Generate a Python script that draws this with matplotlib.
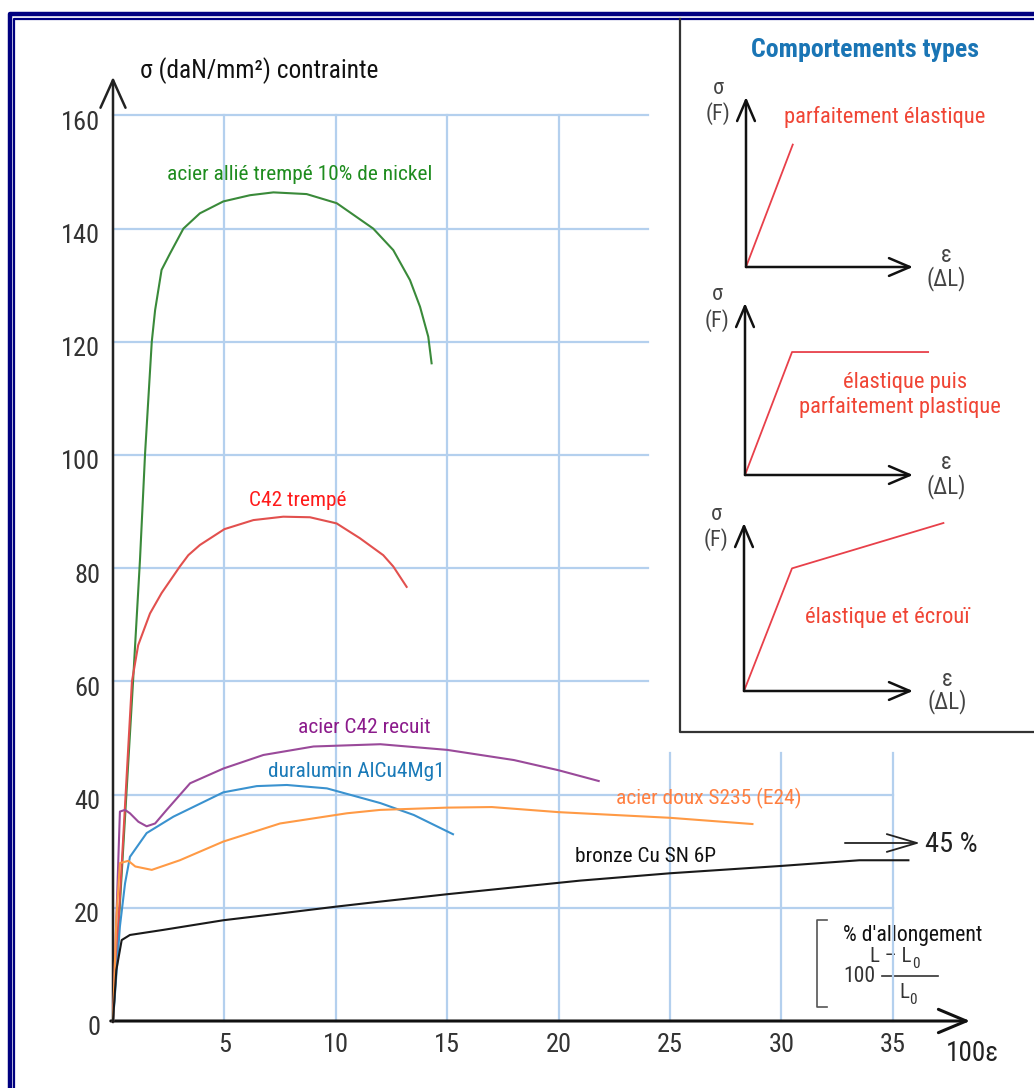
import matplotlib.pyplot as plt

plt.rcParams['font.family'] = ['Roboto Condensed', 'Archivo Narrow', 'Liberation Sans', 'DejaVu Sans']

# stress-strain curves (100*eps, sigma in daN/mm2)
nickel_x = [0, 0.9, 1.21, 1.44, 1.74, 1.89, 2.18, 2.56, 3.16, 3.9, 4.95, 6.15, 7.2, 8.69, 10.04, 11.68, 12.58, 13.33, 13.78, 14.15, 14.3]
nickel_y = [0, 60, 81.4, 100.3, 120, 125.6, 132.7, 135.6, 140, 142.7, 144.8, 145.9, 146.4, 146.1, 144.5, 140, 136.2, 130.9, 126.2, 120.9, 116.2]

c42t_x = [0, 0.85, 1.13, 1.66, 2.18, 3.0, 3.38, 3.9, 5.0, 6.3, 7.64, 8.84, 10.04, 11.08, 12.13, 12.58, 13.18]
c42t_y = [0, 60, 66.4, 72, 75.6, 80.3, 82.3, 84.1, 86.9, 88.5, 89.1, 89.0, 87.9, 85.3, 82.3, 80.3, 76.7]

c42r_x = [0, 0.31, 0.54, 0.76, 1.14, 1.51, 1.89, 2.41, 3.46, 4.95, 6.75, 9.0, 12.0, 15.0, 18.0, 20.0, 21.8]
c42r_y = [0, 37.0, 37.3, 36.7, 35.2, 34.4, 34.9, 37.3, 42.0, 44.6, 47.0, 48.5, 48.9, 47.9, 46.1, 44.3, 42.4]

dural_x = [0, 0.31, 0.54, 0.76, 1.51, 2.71, 4.95, 6.45, 7.8, 9.6, 12.0, 13.5, 15.26]
dural_y = [0, 16.7, 24.3, 29.0, 33.2, 36.1, 40.4, 41.5, 41.7, 41.1, 38.5, 36.4, 33.0]

doux_x = [0, 0.15, 0.31, 0.69, 1.0, 1.74, 3.0, 4.95, 7.5, 10.5, 12.0, 15.0, 17.0, 20.0, 25.0, 28.7]
doux_y = [0, 18, 27.9, 28.3, 27.3, 26.7, 28.4, 31.7, 34.9, 36.7, 37.3, 37.7, 37.8, 36.9, 35.9, 34.8]

bronze_x = [0, 0.15, 0.39, 0.76, 2.26, 4.95, 7.5, 10.0, 12.0, 15.0, 20.96, 25.0, 30.0, 33.5, 35.7]
bronze_y = [0, 9, 14.3, 15.2, 16.1, 17.8, 19.0, 20.2, 21.1, 22.4, 24.8, 26.1, 27.4, 28.4, 28.4]

xticks = [5, 10, 15, 20, 25, 30, 35]
yticks = [0, 20, 40, 60, 80, 100, 120, 140, 160]

# schematic behaviours in the inset (arbitrary units)
elastic_e = [0, 0.28]
elastic_s = [0, 0.72]
plastic_e = [0, 0.28, 1.09]
plastic_s = [0, 0.715, 0.715]
hard_e = [0, 0.284, 1.18]
hard_s = [0, 0.73, 1.0]

W, H = 1034, 1088
fig = plt.figure(figsize=(W / 100, H / 100), dpi=100)

# pixel overlay for frame and decorations
pax = fig.add_axes([0, 0, 1, 1])
pax.set_xlim(0, W)
pax.set_ylim(H, 0)
pax.axis('off')

navy = '#000080'
pax.plot([10, 10, W + 20], [H + 20, 14, 14], color=navy, lw=3.2, solid_capstyle='butt')
pax.plot([14.3, 14.3, W + 20], [H + 20, 18.5, 18.5], color=navy, lw=1.6, solid_capstyle='butt')
# inset frame
pax.plot([680, 680, W + 20], [19, 732, 732], color='#333333', lw=1.6)

# main chart axes, mapped so that data units land where the reference has them
x0, sx = 113, 22.28
y0, sy = 1021, 5.66
ax = fig.add_axes([0, 0, 1, 1])
ax.set_xlim(-x0 / sx, (W - x0) / sx)
ax.set_ylim(-(H - y0) / sy, y0 / sy)
ax.axis('off')

gridc = '#b4d0ee'
for t in xticks:
    top = 160 if t <= 20 else 47.3
    ax.plot([t, t], [0, top], color=gridc, lw=1.6, zorder=1)
for t in yticks[1:]:
    right = 35 if t <= 40 else 24.0
    ax.plot([0, right], [t, t], color=gridc, lw=1.6, zorder=1)

# axes with open arrow heads
ax.annotate('', xy=(0, 166.8), xytext=(0, -0.2),
            arrowprops=dict(arrowstyle='->,head_length=1.0,head_width=0.45', lw=1.8,
                            color='#222222', mutation_scale=20, shrinkA=0, shrinkB=0), zorder=3)
ax.annotate('', xy=(38.47, 0), xytext=(-0.1, 0),
            arrowprops=dict(arrowstyle='->,head_length=1.0,head_width=0.42', lw=2.2,
                            color='#111111', mutation_scale=20, shrinkA=0, shrinkB=0), zorder=3)

for t in xticks:
    ax.text(t, -4.3, str(t), ha='center', va='center', fontsize=19, color='#333333')
for t in yticks:
    ax.text(-0.58, t - 1.3, str(t), ha='right', va='center', fontsize=19, color='#333333')

ax.text(1.2, 168.0, 'σ (daN/mm²) contrainte', ha='left', va='center', fontsize=18.3, color='#111111')
ax.text(37.4, -5.8, '100ε', ha='left', va='center', fontsize=19.5, color='#222222')

# curves
ax.plot(nickel_x, nickel_y, color='#3a8a3a', lw=1.5, zorder=4)
ax.plot(c42t_x, c42t_y, color='#e2504e', lw=1.5, zorder=4)
ax.plot(c42r_x, c42r_y, color='#9a4a9a', lw=1.5, zorder=4)
ax.plot(dural_x, dural_y, color='#3a92cf', lw=1.5, zorder=4)
ax.plot(doux_x, doux_y, color='#ff9a45', lw=1.5, zorder=4)
ax.plot(bronze_x, bronze_y, color='#1a1a1a', lw=1.5, zorder=4)

lab = 15.4
ax.text(8.39, 149.5, 'acier allié trempé 10% de nickel', ha='center', va='center', fontsize=lab, color='#1e8c1e')
ax.text(8.3, 92.0, 'C42 trempé', ha='center', va='center', fontsize=lab, color='#ff1a1a')
ax.text(11.3, 51.9, 'acier C42 recuit', ha='center', va='center', fontsize=lab, color='#8b1a8b')
ax.text(10.9, 44.0, 'duralumin AlCu4Mg1', ha='center', va='center', fontsize=lab, color='#1a7ab8')
ax.text(26.75, 39.4, 'acier doux S235 (E24)', ha='center', va='center', fontsize=lab, color='#ff7f40')
ax.text(23.9, 29.0, 'bronze Cu SN 6P', ha='center', va='center', fontsize=lab, color='#111111')

# 45 % arrow
ax.annotate('', xy=(36.22, 31.45), xytext=(32.85, 31.45),
            arrowprops=dict(arrowstyle='->,head_length=1.08,head_width=0.32', lw=1.3,
                            color='#222222', mutation_scale=20, shrinkA=0, shrinkB=0))
ax.text(36.45, 31.2, '45 %', ha='left', va='center', fontsize=20.5, color='#222222')

# elongation bracket
pax.plot([827, 817, 817, 827], [920, 920, 1007, 1007], color='#555555', lw=1.2)
pax.text(843, 935, "% d'allongement", ha='left', va='center', fontsize=15.7, color='#111111')
pax.text(843, 977, '100', ha='left', va='center', fontsize=15.5, color='#333333')
pax.plot([882, 938], [976, 976], color='#333333', lw=1.2)
pax.text(912, 957, 'L – L', ha='right', va='center', fontsize=15, color='#333333')
pax.text(912, 964, '0', ha='left', va='center', fontsize=11, color='#333333')
pax.text(909, 993, 'L', ha='right', va='center', fontsize=15, color='#333333')
pax.text(909, 1000, '0', ha='left', va='center', fontsize=11, color='#333333')

# inset: behaviour types
pax.text(865, 50, 'Comportements types', ha='center', va='center', fontsize=18.6,
         fontweight='bold', color='#1a75b5')

red_line = '#e8404a'
red_txt = '#f04535'
subs = [
    ((746, 267, 167, 170), elastic_e, elastic_s, [(0.83, 0.88, 'parfaitement élastique')]),
    ((745, 475, 168, 172), plastic_e, plastic_s, [(0.95, 0.54, 'élastique puis'),
                                                  (0.92, 0.395, 'parfaitement plastique')]),
    ((744, 691, 169, 168), hard_e, hard_s, [(0.846, 0.44, 'élastique et écrouï')]),
]
for (ox, oy, w, h), e, s, labels in subs:
    sax = fig.add_axes([ox / W, (H - oy) / H, w / W, h / H])
    sax.set_xlim(0, 1)
    sax.set_ylim(0, 1)
    sax.axis('off')
    arr = dict(arrowstyle='->,head_length=0.75,head_width=0.32', lw=1.8, color='#111111',
               mutation_scale=20, shrinkA=0, shrinkB=0)
    sax.annotate('', xy=(0, 1), xytext=(0, 0), arrowprops=arr)
    sax.annotate('', xy=(1, 0), xytext=(0, 0), arrowprops=arr)
    sax.plot(e, s, color=red_line, lw=1.3, clip_on=False)
    sax.text(-0.165, 1.05, 'σ', ha='center', va='center', fontsize=16, color='#444444')
    sax.text(-0.165, 0.9, '(F)', ha='center', va='center', fontsize=16, color='#444444')
    sax.text(1.2, 0.07, 'ε', ha='center', va='center', fontsize=16.5, color='#444444')
    sax.text(1.2, -0.065, '(ΔL)', ha='center', va='center', fontsize=16.5, color='#444444')
    for lx, ly, txt in labels:
        sax.text(lx, ly, txt, ha='center', va='center', fontsize=16.2, color=red_txt)

fig.savefig('out.png', dpi=100)
